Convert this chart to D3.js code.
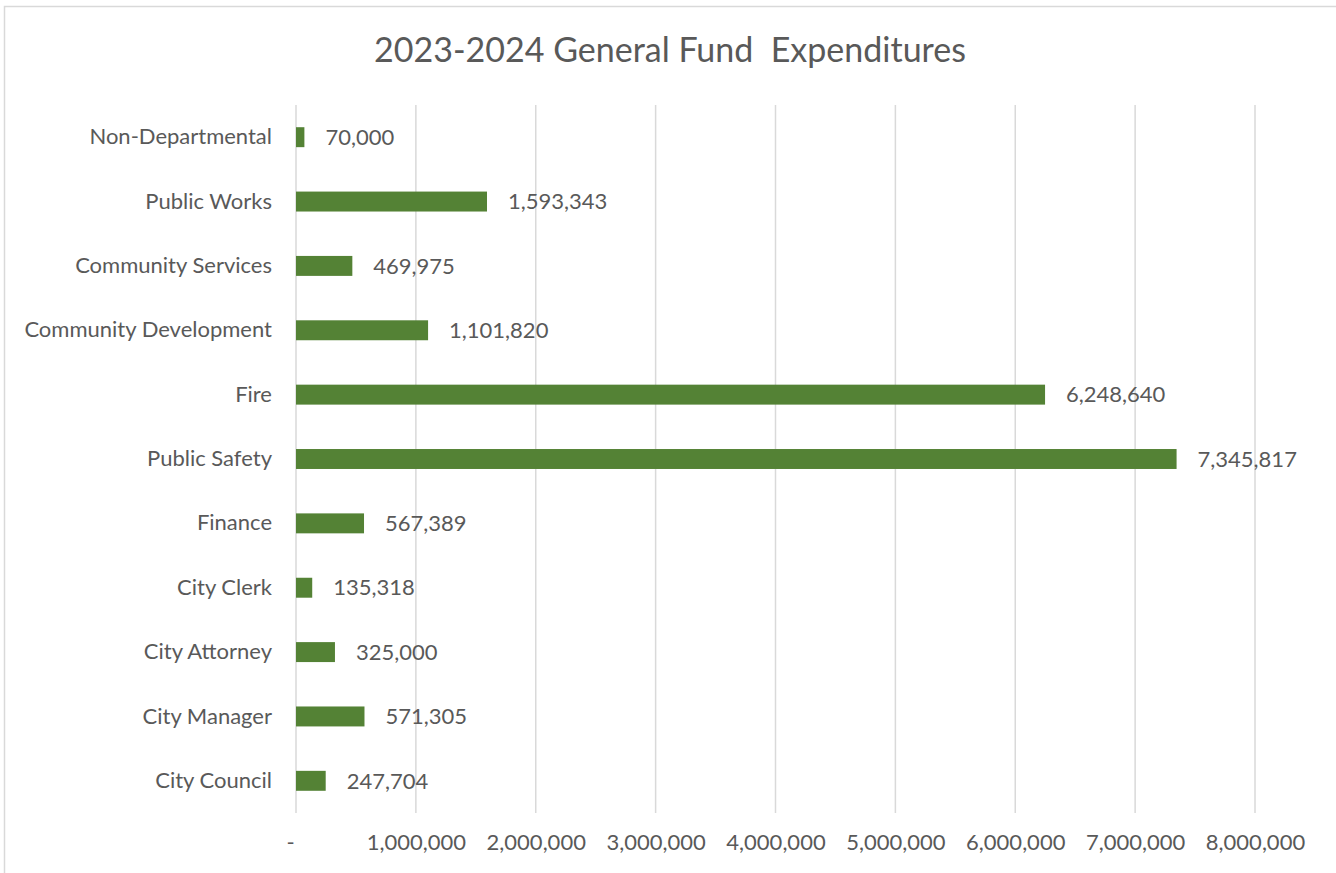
<!DOCTYPE html>
<html>
<head>
<meta charset="utf-8">
<script src="https://cdn.jsdelivr.net/npm/d3@7"></script>
<style>
  body { margin: 0; background: #fff; }
  text { font-family: Lato, "Open Sans", sans-serif; fill: #595959; }
</style>
</head>
<body>
<div id="chart"></div>
<script>
// categories from top to bottom, as shown
var categories = ["Non-Departmental", "Public Works", "Community Services", "Community Development",
    "Fire", "Public Safety", "Finance", "City Clerk", "City Attorney", "City Manager", "City Council"];
var values = [70000, 1593343, 469975, 1101820, 6248640, 7345817, 567389, 135318, 325000, 571305, 247704];
var ticks = [0, 1000000, 2000000, 3000000, 4000000, 5000000, 6000000, 7000000, 8000000];
var title = "2023-2024 General Fund\u00a0 Expenditures";

var width = 1336,
    height = 873;
var margin = { top: 105, right: 81, bottom: 60, left: 296 };

var format = d3.format(",");

var svg = d3.select("#chart")
    .append("svg")
    .attr("width", width)
    .attr("height", height);

// chart frame
svg.append("rect")
    .attr("x", 4.5)
    .attr("y", 6.5)
    .attr("width", 1340)
    .attr("height", 880)
    .style("fill", "none")
    .style("stroke", "#d9d9d9")
    .style("stroke-width", 1.5);

svg.append("text")
    .attr("x", 670)
    .attr("y", 62)
    .attr("text-anchor", "middle")
    .style("font-size", "34px")
    .style("white-space", "pre")
    .text(title);

var x = d3.scaleLinear()
    .domain([0, 8000000])
    .range([margin.left, 1255]);

var y = d3.scaleBand()
    .domain(categories)
    .range([margin.top, 813])
    .paddingInner(0.69)
    .paddingOuter(0.345);

// gridlines
svg.append("g")
    .selectAll("line")
    .data(ticks)
    .enter().append("line")
    .attr("x1", function (d) { return x(d); })
    .attr("x2", function (d) { return x(d); })
    .attr("y1", margin.top)
    .attr("y2", 813)
    .style("stroke", "#d9d9d9")
    .style("stroke-width", 1.5);

// x tick labels
var xAxis = d3.axisBottom(x)
    .tickValues(ticks)
    .tickSize(0)
    .tickPadding(0)
    .tickFormat(function (d) { return d === 0 ? "-" : format(d); });

var gx = svg.append("g")
    .attr("transform", "translate(0,834)")
    .call(xAxis);
gx.select(".domain").remove();
gx.selectAll("text")
    .attr("font-family", null)
    .attr("dx", function (d) { return d === 0 ? "-6px" : 0; })
    .style("font-size", "22px");

// y category labels
var yAxis = d3.axisLeft(y)
    .tickSize(0)
    .tickPadding(24);

var gy = svg.append("g")
    .attr("transform", "translate(" + margin.left + ",0)")
    .call(yAxis);
gy.select(".domain").remove();
gy.selectAll("text")
    .attr("font-family", null)
    .style("font-size", "22px");

// bars
svg.append("g")
    .selectAll("rect")
    .data(values)
    .enter().append("rect")
    .attr("x", x(0))
    .attr("y", function (d, i) { return y(categories[i]); })
    .attr("width", function (d) { return x(d) - x(0); })
    .attr("height", y.bandwidth())
    .style("fill", "#548235");

// value labels
svg.append("g")
    .selectAll("text")
    .data(values)
    .enter().append("text")
    .attr("x", function (d) { return x(d) + 21; })
    .attr("y", function (d, i) { return y(categories[i]) + y.bandwidth() / 2; })
    .attr("dy", "0.35em")
    .style("font-size", "22px")
    .text(function (d) { return format(d); });
</script>
</body>
</html>
